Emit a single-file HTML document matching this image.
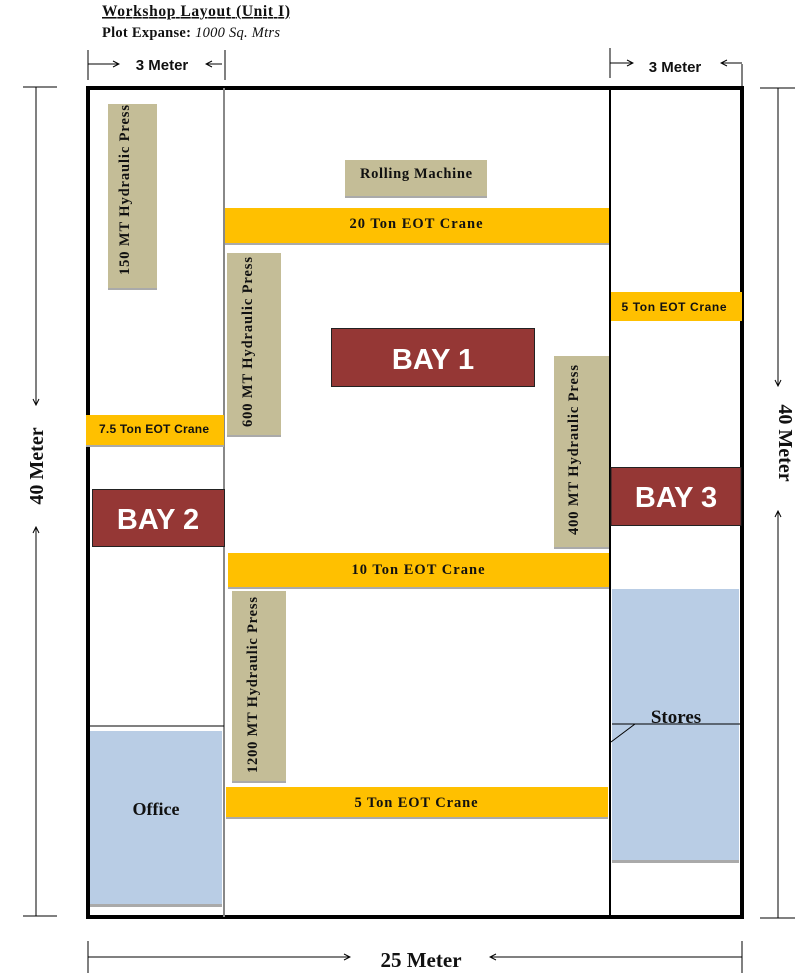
<!DOCTYPE html>
<html><head><meta charset="utf-8"><style>
html,body{margin:0;padding:0;background:#fff;}
svg{display:block;}
.s{font-family:"Liberation Serif",serif;font-weight:bold;fill:#111;}
.a{font-family:"Liberation Sans",sans-serif;font-weight:bold;fill:#111;}
</style></head><body>
<svg width="804" height="980" viewBox="0 0 804 980" xmlns="http://www.w3.org/2000/svg">
<defs>
<marker id="ar" markerWidth="8" markerHeight="8" refX="7" refY="4" orient="auto" markerUnits="userSpaceOnUse">
<path d="M1,1 L7,4 L1,7" fill="none" stroke="#000" stroke-width="1"/></marker>
</defs>
<text x="102" y="16" class="s" font-size="15.5" textLength="188" text-decoration="underline">Workshop Layout (Unit I)</text>
<text x="102" y="37" class="s" font-size="14.5" textLength="178">Plot Expanse: <tspan font-style="italic" font-weight="normal">1000 Sq. Mtrs</tspan></text>

<line x1="88" y1="50" x2="88" y2="80" stroke="#000"/>
<line x1="225" y1="50" x2="225" y2="80" stroke="#000"/>
<line x1="88" y1="64" x2="119" y2="64" stroke="#000" marker-end="url(#ar)"/>
<line x1="222" y1="64" x2="206" y2="64" stroke="#000" marker-end="url(#ar)"/>
<text x="162" y="70" class="a" font-size="15" text-anchor="middle">3 Meter</text>
<line x1="610" y1="48" x2="610" y2="78" stroke="#000"/>
<line x1="742" y1="64" x2="742" y2="86" stroke="#000"/>
<line x1="610" y1="63" x2="633" y2="63" stroke="#000" marker-end="url(#ar)"/>
<line x1="742" y1="63" x2="721" y2="63" stroke="#000" marker-end="url(#ar)"/>
<text x="675" y="72" class="a" font-size="15" text-anchor="middle">3 Meter</text>

<line x1="23" y1="87" x2="57" y2="87" stroke="#000"/>
<line x1="23" y1="916" x2="57" y2="916" stroke="#000"/>
<line x1="36" y1="87" x2="36" y2="405" stroke="#000" marker-end="url(#ar)"/>
<line x1="36" y1="916" x2="36" y2="527" stroke="#000" marker-end="url(#ar)"/>
<text class="s" font-size="20" font-weight="normal" text-anchor="middle" transform="translate(43,466) rotate(-90)">40 Meter</text>
<line x1="760" y1="88" x2="795" y2="88" stroke="#000"/>
<line x1="760" y1="918" x2="795" y2="918" stroke="#000"/>
<line x1="778" y1="88" x2="778" y2="386" stroke="#000" marker-end="url(#ar)"/>
<line x1="778" y1="918" x2="778" y2="511" stroke="#000" marker-end="url(#ar)"/>
<text class="s" font-size="20" text-anchor="middle" transform="translate(779,443) rotate(90)">40 Meter</text>

<line x1="88" y1="941" x2="88" y2="973" stroke="#000"/>
<line x1="742" y1="941" x2="742" y2="973" stroke="#000"/>
<line x1="88" y1="957" x2="350" y2="957" stroke="#000" marker-end="url(#ar)"/>
<line x1="742" y1="957" x2="490" y2="957" stroke="#000" marker-end="url(#ar)"/>
<text x="421" y="967" class="s" font-size="21" font-weight="normal" text-anchor="middle">25 Meter</text>

<rect x="88" y="88" width="654" height="829" fill="none" stroke="#000" stroke-width="4"/>
<line x1="224" y1="88" x2="224" y2="917" stroke="#888" stroke-width="2"/>
<line x1="610" y1="88" x2="610" y2="917" stroke="#000" stroke-width="2"/>
<line x1="88" y1="726" x2="224" y2="726" stroke="#000" stroke-width="1"/>

<g fill="#c4bd97">
<rect x="108" y="104" width="49" height="185"/>
<rect x="345" y="160" width="142" height="37"/>
<rect x="227" y="253" width="54" height="183"/>
<rect x="554" y="356" width="55" height="192"/>
<rect x="232" y="591" width="54" height="191"/>
</g>
<g fill="#aaa">
<rect x="108" y="288" width="49" height="2"/>
<rect x="345" y="196" width="142" height="2"/>
<rect x="227" y="435" width="54" height="2"/>
<rect x="554" y="547" width="55" height="2"/>
<rect x="232" y="781" width="54" height="2"/>
</g>
<text class="s" font-size="14.5" text-anchor="middle" textLength="170" transform="translate(129,190) rotate(-90)">150 MT Hydraulic Press</text>
<text x="416" y="178" class="s" font-size="14.5" text-anchor="middle" textLength="112">Rolling Machine</text>
<text class="s" font-size="14.5" text-anchor="middle" textLength="170" transform="translate(252,342) rotate(-90)">600 MT Hydraulic Press</text>
<text class="s" font-size="14.5" text-anchor="middle" textLength="170" transform="translate(578,450) rotate(-90)">400 MT Hydraulic Press</text>
<text class="s" font-size="14.5" text-anchor="middle" textLength="176" transform="translate(257,685) rotate(-90)">1200 MT Hydraulic Press</text>

<g fill="#ffc000">
<rect x="225" y="208" width="384" height="35"/>
<rect x="611" y="292" width="131" height="29"/>
<rect x="86" y="415" width="138" height="30"/>
<rect x="228" y="553" width="381" height="34"/>
<rect x="226" y="787" width="382" height="30"/>
</g>
<g fill="#aaa">
<rect x="225" y="243" width="384" height="2"/>
<rect x="86" y="445" width="138" height="2"/>
<rect x="228" y="587" width="381" height="2"/>
<rect x="226" y="817" width="382" height="2"/>
</g>
<text x="416" y="228" class="s" font-size="14.5" text-anchor="middle" textLength="133">20 Ton EOT Crane</text>
<text x="674" y="311" class="a" font-size="12" text-anchor="middle" textLength="105">5 Ton EOT Crane</text>
<text x="154" y="433" class="a" font-size="12" text-anchor="middle" textLength="110">7.5 Ton EOT Crane</text>
<text x="418" y="574" class="s" font-size="14.5" text-anchor="middle" textLength="133">10 Ton EOT Crane</text>
<text x="416" y="807" class="s" font-size="14.5" text-anchor="middle" textLength="123">5 Ton EOT Crane</text>

<g fill="#953735" stroke="#222" stroke-width="1">
<rect x="331.5" y="328.5" width="203" height="58"/>
<rect x="92.5" y="489.5" width="132" height="57"/>
<rect x="611" y="467.5" width="130" height="58"/>
</g>
<text x="433" y="369" class="a" font-size="29" style="fill:#fff" text-anchor="middle">BAY 1</text>
<text x="158" y="529" class="a" font-size="29" style="fill:#fff" text-anchor="middle">BAY 2</text>
<text x="676" y="507" class="a" font-size="29" style="fill:#fff" text-anchor="middle">BAY 3</text>

<rect x="90" y="731" width="132" height="174" fill="#b9cde5"/>
<rect x="90" y="904" width="132" height="3" fill="#aaa"/>
<text x="156" y="815" class="s" font-size="18" text-anchor="middle">Office</text>
<rect x="612" y="589" width="127" height="271" fill="#b9cde5"/>
<rect x="612" y="860" width="127" height="3" fill="#aaa"/>
<line x1="612" y1="724" x2="740" y2="724" stroke="#000" stroke-width="1"/>
<line x1="635" y1="724" x2="611" y2="742" stroke="#000" stroke-width="1"/>
<text x="676" y="723" class="s" font-size="19" text-anchor="middle">Stores</text>
</svg>
</body></html>
